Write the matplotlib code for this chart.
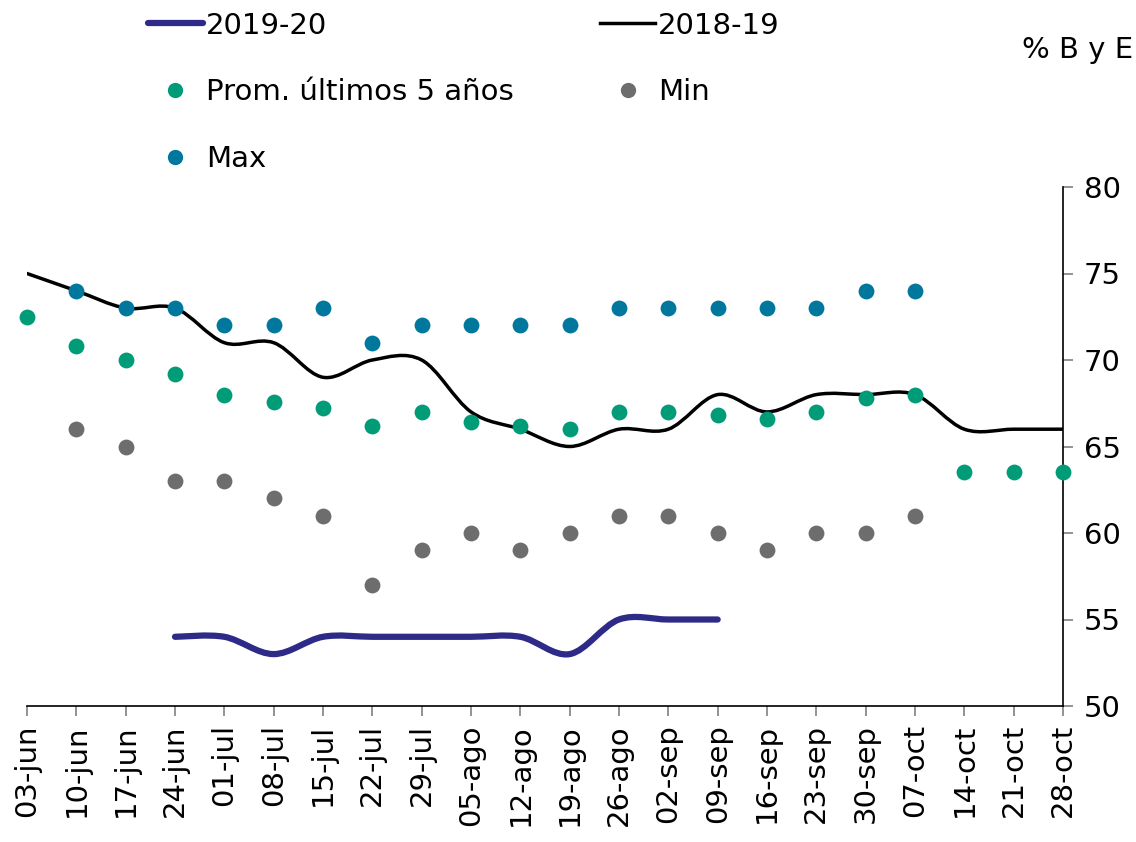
import numpy as np
import matplotlib
matplotlib.use("Agg")
import matplotlib.pyplot as plt
from matplotlib.path import Path
from matplotlib.patches import PathPatch
from matplotlib.lines import Line2D

plt.rcParams['font.family'] = ['DejaVu Sans']

semanas = ['03-jun', '10-jun', '17-jun', '24-jun', '01-jul', '08-jul', '15-jul',
           '22-jul', '29-jul', '05-ago', '12-ago', '19-ago', '26-ago', '02-sep',
           '09-sep', '16-sep', '23-sep', '30-sep', '07-oct', '14-oct', '21-oct',
           '28-oct']

# % bueno y excelente por semana
campana_1819 = [75, 74, 73, 73, 71, 71, 69, 70, 70, 67, 66, 65, 66, 66, 68, 67,
                68, 68, 68, 66, 66, 66]
campana_1920 = [None, None, None, 54, 54, 53, 54, 54, 54, 54, 54, 53, 55, 55, 55]
promedio_5 = [72.5, 70.8, 70, 69.2, 68, 67.6, 67.2, 66.2, 67, 66.4, 66.2, 66,
              67, 67, 66.8, 66.6, 67, 67.8, 68, 63.5, 63.5, 63.5]
minimo = [None, 66, 65, 63, 63, 62, 61, 57, 59, 60, 59, 60, 61, 61, 60, 59, 60,
          60, 61]
maximo = [None, 74, 73, 73, 72, 72, 73, 71, 72, 72, 72, 72, 73, 73, 73, 73, 73,
          74, 74]

azul = '#2e2a87'
verde = '#009b77'
gris = '#6d6d6d'
celeste = '#00789e'


def puntos(serie):
    xs = [i for i, v in enumerate(serie) if v is not None]
    ys = [v for v in serie if v is not None]
    return np.array(xs, float), np.array(ys, float)


def linea_suave(ax, serie, color, lw):
    # curva suavizada tipo Catmull-Rom con beziers cubicas
    x, y = puntos(serie)
    p = np.column_stack([x, y])
    verts = [p[0]]
    codes = [Path.MOVETO]
    n = len(p)
    for i in range(n - 1):
        p0 = p[i - 1] if i > 0 else p[i]
        p3 = p[i + 2] if i + 2 < n else p[i + 1]
        c1 = p[i] + (p[i + 1] - p0) / 6
        c2 = p[i + 1] - (p3 - p[i]) / 6
        verts += [c1, c2, p[i + 1]]
        codes += [Path.CURVE4] * 3
    patch = PathPatch(Path(verts, codes), facecolor='none', edgecolor=color,
                      lw=lw, capstyle='round', zorder=3)
    ax.add_patch(patch)


fig = plt.figure(figsize=(11.36, 8.42), dpi=100)
ax = fig.add_axes([27 / 1136, 136 / 842, 1036 / 1136, 519 / 842])

linea_suave(ax, campana_1920, azul, 4.5)
linea_suave(ax, campana_1819, 'black', 2.5)

for serie, color in [(promedio_5, verde), (minimo, gris), (maximo, celeste)]:
    x, y = puntos(serie)
    ax.scatter(x, y, s=130, color=color, zorder=4, clip_on=False, linewidths=0)

ax.set_xlim(0, len(semanas) - 1)
ax.set_ylim(50, 80)
ax.set_xticks(range(len(semanas)))
ax.set_xticklabels(semanas, rotation=90, fontsize=21)
ax.set_yticks(range(50, 81, 5))
ax.yaxis.tick_right()
ax.tick_params(axis='y', labelsize=21, direction='out', length=7, width=1.2,
               color='#808080', pad=8)
ax.tick_params(axis='x', direction='out', length=7, width=1.2,
               color='#808080', pad=6)
for lado in ['top', 'left']:
    ax.spines[lado].set_visible(False)
for lado in ['bottom', 'right']:
    ax.spines[lado].set_linewidth(1.2)
    ax.spines[lado].set_color('black')

# leyenda en dos columnas (se llena por columna)
h_1920 = Line2D([], [], color=azul, lw=4.5, solid_capstyle='round')
h_1819 = Line2D([], [], color='black', lw=2.5)
h_prom = Line2D([], [], color=verde, marker='o', ls='none', markersize=11, markeredgewidth=0)
h_min = Line2D([], [], color=gris, marker='o', ls='none', markersize=11, markeredgewidth=0)
h_max = Line2D([], [], color=celeste, marker='o', ls='none', markersize=11, markeredgewidth=0)
handles = [h_1920, h_prom, h_max, h_1819, h_min]
etiquetas = ['2019-20', 'Prom. últimos 5 años', 'Max', '2018-19', 'Min']
fig.legend(handles, etiquetas, loc='upper left', bbox_to_anchor=(136 / 1136, 1.0),
           ncol=2, frameon=False, fontsize=21, handlelength=1.9,
           handletextpad=0.1, labelspacing=1.33, columnspacing=2.95,
           borderaxespad=0.0)

fig.text(1133 / 1136, 1 - 50 / 842, '% B y E', ha='right', va='center', fontsize=21)

fig.savefig('out.png', dpi=100)
